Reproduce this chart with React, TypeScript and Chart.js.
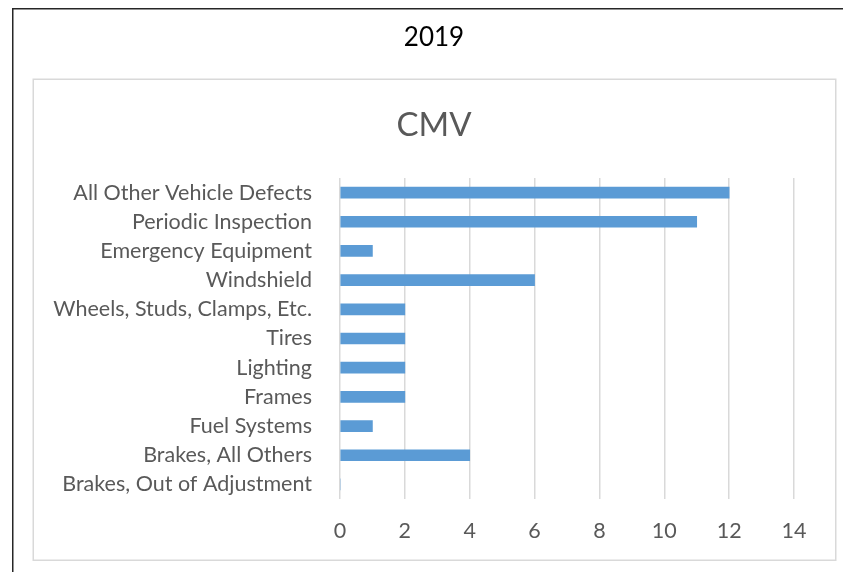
import React, { useEffect, useRef } from "react";
import { Chart, registerables } from "chart.js";

Chart.register(...registerables);

const categories = [
  "All Other Vehicle Defects",
  "Periodic Inspection",
  "Emergency Equipment",
  "Windshield",
  "Wheels, Studs, Clamps, Etc.",
  "Tires",
  "Lighting",
  "Frames",
  "Fuel Systems",
  "Brakes, All Others",
  "Brakes, Out of Adjustment",
];
const values = [12, 11, 1, 6, 2, 2, 2, 2, 1, 4, 0];
const outerTitle = "2019";
const chartTitle = "CMV";
const FONT = "Lato, 'Open Sans', sans-serif";

const framePlugin = {
  id: "frame",
  beforeDraw(chart: any) {
    const ctx = chart.ctx;
    ctx.save();
    ctx.fillStyle = "#ffffff";
    ctx.fillRect(0, 0, chart.width, chart.height);
    // outer frame
    ctx.strokeStyle = "#262626";
    ctx.lineWidth = 1.5;
    ctx.beginPath();
    ctx.moveTo(12.75, chart.height);
    ctx.lineTo(12.75, 8.75);
    ctx.lineTo(chart.width, 8.75);
    ctx.stroke();
    // inner chart box
    ctx.strokeStyle = "#d9d9d9";
    ctx.lineWidth = 1.5;
    ctx.strokeRect(33.25, 79.25, 802.5, 481);
    // texts
    ctx.textAlign = "center";
    ctx.textBaseline = "middle";
    ctx.fillStyle = "#000000";
    ctx.font = "26px " + FONT;
    ctx.fillText(outerTitle, 434, 38);
    ctx.fillStyle = "#595959";
    ctx.font = "33px " + FONT;
    ctx.fillText(chartTitle, 434, 125);
    ctx.restore();
  },
};

export default function App() {
  const ref = useRef<HTMLCanvasElement>(null);
  useEffect(() => {
    if (!ref.current) return;
    const chart = new Chart(ref.current, {
      type: "bar",
      data: {
        labels: categories,
        datasets: [
          {
            data: values,
            backgroundColor: "#5b9bd5",
            barThickness: 11,
          },
        ],
      },
      options: {
        indexAxis: "y",
        animation: false,
        responsive: false,
        layout: { padding: { left: 40, top: 178, right: 49, bottom: 23 } },
        plugins: {
          legend: { display: false },
          title: { display: false },
          tooltip: { enabled: false },
        },
        scales: {
          x: {
            min: 0,
            max: 14,
            ticks: {
              stepSize: 2,
              color: "#595959",
              font: { family: FONT, size: 21.5 },
              padding: 19,
            },
            grid: { color: "#d9d9d9", lineWidth: 1.5, drawTicks: false },
            border: { display: false },
            afterFit(scale: any) {
              scale.height = 50;
            },
          },
          y: {
            ticks: {
              color: "#595959",
              font: { family: FONT, size: 21.5 },
              padding: 28,
              autoSkip: false,
            },
            grid: { display: false, drawTicks: false },
            border: { display: false },
            afterFit(scale: any) {
              scale.width = 300;
            },
          },
        },
      },
      plugins: [framePlugin],
    } as any);
    return () => chart.destroy();
  }, []);
  return (
    <div style={{ position: "absolute", left: 0, top: 0, width: 843, height: 572 }}>
      <canvas ref={ref} width={843} height={572} style={{ display: "block" }} />
    </div>
  );
}
